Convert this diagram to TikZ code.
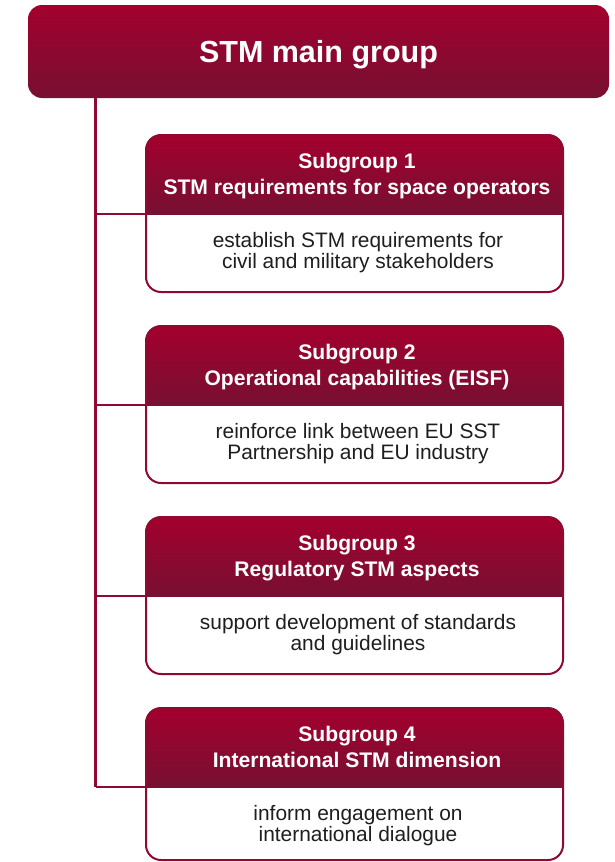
\documentclass[tikz,border=0pt]{standalone}
\usepackage{fontspec}
\setmainfont{Liberation Sans}
\definecolor{redtop}{HTML}{A3002D}
\definecolor{redbot}{HTML}{771032}
\definecolor{edgered}{HTML}{8E0A30}
\definecolor{bodytext}{HTML}{1E1E1E}
\begin{document}
\begin{tikzpicture}[x=1pt,y=-1pt,
  mainbox/.style={rectangle, rounded corners=14pt, top color=redtop, bottom color=redbot,
    draw=none, minimum width=581pt, minimum height=93pt, inner sep=0pt, outer sep=0pt,
    text=white, font=\fontsize{30.5}{36}\selectfont\bfseries, text height=22pt, text depth=0pt},
  frame/.style={rectangle, draw=none, minimum width=417pt, inner sep=0pt, outer sep=0pt},
  htext/.style={anchor=base, text=white, inner sep=0pt, font=\fontsize{21.1}{26}\selectfont\bfseries},
  btext/.style={anchor=base, text=bodytext, inner sep=0pt, font=\fontsize{20.9}{22}\selectfont},
  conn/.style={draw=edgered, line width=2.2pt},
  border/.style={draw=edgered, line width=2pt, rounded corners=15pt}]
\useasboundingbox (0,0) rectangle (615,862);
\fill[white] (0,0) rectangle (615,862);

\node[mainbox] (main) at (318.5,51.5) {STM main group};
\coordinate (trunk) at (95.5,97);

\foreach \i/\T/\H/\ha/\hb/\ba/\bb in {
  1/135/157/Subgroup 1/STM requirements for space operators/establish STM requirements for/civil and military stakeholders,
  2/326/157/Subgroup 2/Operational capabilities (EISF)/reinforce link between EU SST/Partnership and EU industry,
  3/517/157/Subgroup 3/Regulatory STM aspects/support development of standards/and guidelines,
  4/708/152/Subgroup 4/International STM dimension/inform engagement on/international dialogue}{
  \node[frame, minimum height=\H pt] (b\i) at (354.5,\T+\H/2) {};
  \node[frame, minimum height=79pt] (h\i) at (354.5,\T+39.5) {};
  \draw[conn] (trunk |- h\i.south west) -- (h\i.south west);
  \begin{scope}
    \clip[rounded corners=15pt] (b\i.north west) rectangle (b\i.south east);
    \fill[white] (b\i.north west) rectangle (b\i.south east);
    \shade[top color=redtop, bottom color=redbot] (h\i.north west) rectangle (h\i.south east);
  \end{scope}
  \draw[border] (b\i.north west) rectangle (b\i.south east);
  \node[htext] (h\i a) at (357,\T+33) {\ha};
  \node[htext] (h\i b) at (357,\T+59) {\hb};
  \node[btext] (b\i a) at (358,\T+112) {\ba};
  \node[btext] (b\i b) at (358,\T+133) {\bb};
}
\draw[conn] (trunk) -- (trunk |- h4.south west);
\end{tikzpicture}
\end{document}
